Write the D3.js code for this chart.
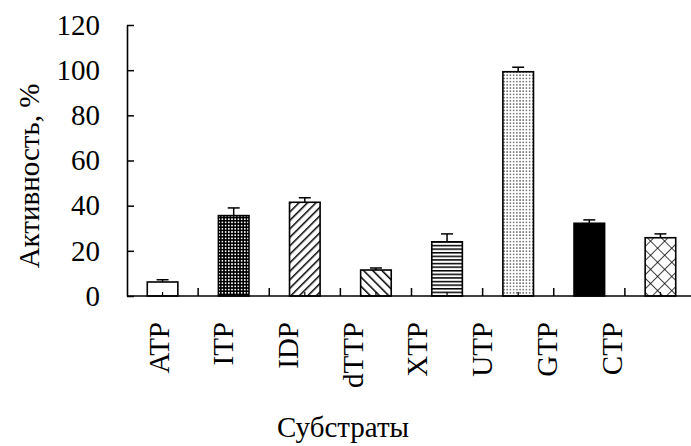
<!DOCTYPE html>
<html>
<head>
<meta charset="utf-8">
<script src="https://cdn.jsdelivr.net/npm/d3@7"></script>
<style>
  body { margin: 0; background: #fff; }
</style>
</head>
<body>
<div id="chart"></div>
<script>
const categories = ["ATP", "ITP", "IDP", "dTTP", "XTP", "UTP", "GTP", "CTP"];
const activity = [6.2, 35.6, 41.5, 11.5, 24, 99.3, 32.2, 25.8];
const errors = [1, 3.4, 2, 0.9, 3.5, 2, 1.5, 1.7];
const yTicks = [0, 20, 40, 60, 80, 100, 120];

// fill per bar, in the same order as categories
const fills = ["#fff", "url(#dotsW)", "url(#diagUp)", "url(#diagDown)", "url(#horiz)", "url(#dotsB)", "#000", "url(#cross)"];

const serif = '"Liberation Serif", "Times New Roman", serif';
const fontSize = 29;

const size = { x: 691, y: 446 };
const plot = { left: 127, top: 25, bottom: 296, right: 696 };

const svg = d3.select("#chart")
  .append("svg")
  .attr("width", size.x)
  .attr("height", size.y);

const defs = svg.append("defs");

// black with white dots
let p = defs.append("pattern").attr("id", "dotsW").attr("patternUnits", "userSpaceOnUse")
  .attr("width", 3.2).attr("height", 3.2);
p.append("rect").attr("width", 3.2).attr("height", 3.2).attr("fill", "#000");
p.append("rect").attr("x", 0.8).attr("y", 0.8).attr("width", 1.6).attr("height", 1.6).attr("fill", "#fff");

// white with black dots
p = defs.append("pattern").attr("id", "dotsB").attr("patternUnits", "userSpaceOnUse")
  .attr("width", 3.2).attr("height", 3.2);
p.append("rect").attr("width", 3.2).attr("height", 3.2).attr("fill", "#fff");
p.append("rect").attr("x", 1).attr("y", 1).attr("width", 1.3).attr("height", 1.3).attr("fill", "#333");

// diagonal lines "/"
p = defs.append("pattern").attr("id", "diagUp").attr("patternUnits", "userSpaceOnUse")
  .attr("width", 6).attr("height", 6).attr("patternTransform", "rotate(45)");
p.append("rect").attr("width", 6).attr("height", 6).attr("fill", "#fff");
p.append("line").attr("x1", 0).attr("y1", 0).attr("x2", 0).attr("y2", 6).attr("stroke", "#000").attr("stroke-width", 3);

// diagonal lines "\"
p = defs.append("pattern").attr("id", "diagDown").attr("patternUnits", "userSpaceOnUse")
  .attr("width", 6.5).attr("height", 6.5).attr("patternTransform", "rotate(-45)");
p.append("rect").attr("width", 6.5).attr("height", 6.5).attr("fill", "#fff");
p.append("line").attr("x1", 0).attr("y1", 0).attr("x2", 0).attr("y2", 6.5).attr("stroke", "#000").attr("stroke-width", 3);

// horizontal lines
p = defs.append("pattern").attr("id", "horiz").attr("patternUnits", "userSpaceOnUse")
  .attr("width", 4).attr("height", 3.6);
p.append("rect").attr("width", 4).attr("height", 3.6).attr("fill", "#fff");
p.append("rect").attr("y", 0).attr("width", 4).attr("height", 1.5).attr("fill", "#000");

// cross hatch
p = defs.append("pattern").attr("id", "cross").attr("patternUnits", "userSpaceOnUse")
  .attr("width", 10).attr("height", 10).attr("patternTransform", "rotate(45)");
p.append("rect").attr("width", 10).attr("height", 10).attr("fill", "#fff");
p.append("line").attr("x1", 0).attr("y1", 0).attr("x2", 0).attr("y2", 10).attr("stroke", "#000").attr("stroke-width", 1.5);
p.append("line").attr("x1", 0).attr("y1", 0).attr("x2", 10).attr("y2", 0).attr("stroke", "#000").attr("stroke-width", 1.5);

const xScale = d3.scaleBand()
  .domain(categories)
  .range([plot.left, plot.right])
  .paddingInner(0.57)
  .paddingOuter(0.285);

// the category labels sit on a narrower spacing than the bars in the original
const labelScale = d3.scalePoint()
  .domain(categories)
  .range([159, 612]);

const yScale = d3.scaleLinear()
  .domain([0, 120])
  .range([plot.bottom, plot.top]);

// bars
const bars = svg.append("g")
  .selectAll("g")
  .data(categories.map((c, i) => ({ cat: c, value: activity[i], err: errors[i], fill: fills[i] })))
  .enter()
  .append("g");

bars.append("rect")
  .attr("x", d => xScale(d.cat))
  .attr("y", d => yScale(d.value))
  .attr("width", xScale.bandwidth())
  .attr("height", d => yScale(0) - yScale(d.value))
  .attr("fill", d => d.fill)
  .attr("stroke", "#000")
  .attr("stroke-width", 1.6);

// error bars (upper part only)
const cx = d => xScale(d.cat) + xScale.bandwidth() / 2;
bars.append("line")
  .attr("x1", cx).attr("x2", cx)
  .attr("y1", d => yScale(d.value))
  .attr("y2", d => yScale(d.value + d.err))
  .attr("stroke", "#000").attr("stroke-width", 1.5);
bars.append("line")
  .attr("x1", d => cx(d) - 6).attr("x2", d => cx(d) + 6)
  .attr("y1", d => yScale(d.value + d.err))
  .attr("y2", d => yScale(d.value + d.err))
  .attr("stroke", "#000").attr("stroke-width", 1.5);
// small centre mark at the base
bars.append("line")
  .attr("x1", cx).attr("x2", cx)
  .attr("y1", yScale(0)).attr("y2", yScale(0) - 4)
  .attr("stroke", "#000").attr("stroke-width", 1.2);

// y axis
const yAxis = svg.append("g")
  .attr("transform", `translate(${plot.left},0)`)
  .call(d3.axisLeft(yScale).tickValues(yTicks).tickSizeInner(-7).tickSizeOuter(0).tickPadding(27));
yAxis.select(".domain").attr("stroke", "#000").attr("stroke-width", 1.6);
yAxis.selectAll(".tick line").attr("stroke", "#000").attr("stroke-width", 1.5);
yAxis.selectAll(".tick text")
  .style("font-family", serif)
  .style("font-size", fontSize + "px")
  .attr("fill", "#000");

// x axis line and boundary ticks
svg.append("line")
  .attr("x1", plot.left).attr("x2", size.x)
  .attr("y1", yScale(0)).attr("y2", yScale(0))
  .attr("stroke", "#000").attr("stroke-width", 1.6);

const boundary = d => xScale(d) + xScale.bandwidth() + (xScale.step() - xScale.bandwidth()) / 2;
svg.append("g")
  .selectAll("line")
  .data(categories)
  .enter()
  .append("line")
  .attr("x1", boundary)
  .attr("x2", boundary)
  .attr("y1", yScale(0))
  .attr("y2", yScale(0) - 8)
  .attr("stroke", "#000").attr("stroke-width", 1.5);

// x labels (rotated)
svg.append("g")
  .selectAll("text")
  .data(categories)
  .enter()
  .append("text")
  .attr("transform", d => `translate(${labelScale(d)},322) rotate(-90)`)
  .attr("dy", "0.33em")
  .attr("text-anchor", "end")
  .style("font-family", serif)
  .style("font-size", fontSize + "px")
  .text(d => d);

// axis titles
svg.append("text")
  .text("Активность, %")
  .attr("transform", "translate(39,176) rotate(-90)")
  .attr("text-anchor", "middle")
  .style("font-family", serif)
  .style("font-size", fontSize + "px");

svg.append("text")
  .text("Субстраты")
  .attr("x", 343)
  .attr("y", 437)
  .attr("text-anchor", "middle")
  .style("font-family", serif)
  .style("font-size", fontSize + "px");
</script>
</body>
</html>
